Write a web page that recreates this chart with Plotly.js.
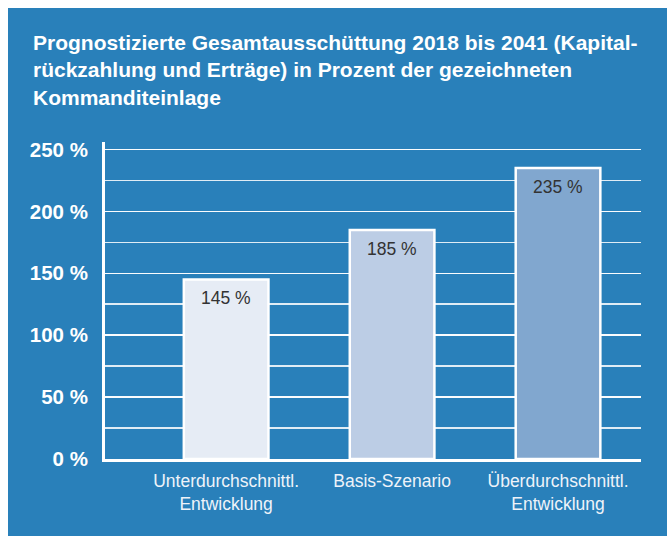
<!DOCTYPE html>
<html>
<head>
<meta charset="utf-8">
<script src="https://cdn.plot.ly/plotly-3.0.1.min.js"></script>
<style>
html,body{margin:0;padding:0;background:#ffffff;}
#chart{position:absolute;left:8px;top:8px;width:659px;height:528px;}
</style>
</head>
<body>
<div id="chart"></div>
<script>
const categories = ["Unterdurchschnittl.<br>Entwicklung", "Basis-Szenario", "Überdurchschnittl.<br>Entwicklung"];
const values = [145, 185, 235];
const barColors = ["#e6ecf5", "#bccde5", "#81a7cf"];
const yTickVals = [0, 50, 100, 150, 200, 250];
const yTickText = ["0 %", "50 %", "100 %", "150 %", "200 %", "250 %"];

const font = "Liberation Sans, Arial, Helvetica, sans-serif";
const blue = "#2980ba";

const trace = {
  type: "bar",
  x: [0, 1, 2],
  y: values,
  width: 0.51,
  marker: {color: barColors, line: {color: "#ffffff", width: 2.5}},
  hoverinfo: "skip"
};

const annotations = values.map((v, i) => ({
  x: i, y: v, xref: "x", yref: "y",
  text: v + " %",
  showarrow: false,
  yanchor: "middle",
  yshift: -19,
  font: {family: font, size: 17.5, color: "#333333"}
}));

const layout = {
  width: 659,
  height: 528,
  paper_bgcolor: blue,
  plot_bgcolor: blue,
  margin: {l: 97, r: 26, t: 134, b: 77},
  showlegend: false,
  annotations: annotations,
  title: {
    text: "<b>Prognostizierte Gesamtausschüttung 2018 bis 2041 (Kapital-<br>rückzahlung und Erträge) in Prozent der gezeichneten<br>Kommanditeinlage</b>",
    x: 25/659, xanchor: "left", xref: "container",
    y: 1 - 42/528, yanchor: "top", yref: "container",
    font: {family: font, size: 21, color: "#ffffff"}
  },
  xaxis: {
    range: [-0.73, 2.5],
    tickvals: [0, 1, 2],
    ticktext: categories,
    showgrid: false,
    zeroline: false,
    showline: true,
    linecolor: "#ffffff",
    linewidth: 3,
    ticks: "",
    ticklabelstandoff: 4,
    tickfont: {family: font, size: 17.5, color: "#eef3f9"},
    fixedrange: true
  },
  yaxis: {
    range: [0, 256],
    tickvals: yTickVals,
    ticktext: yTickText,
    showgrid: true,
    gridcolor: "rgba(255,255,255,0.85)",
    gridwidth: 1.5,
    minor: {dtick: 25, tick0: 0, showgrid: true, gridcolor: "rgba(255,255,255,0.85)", gridwidth: 1.5, ticks: ""},
    zeroline: false,
    showline: true,
    linecolor: "#ffffff",
    linewidth: 3,
    ticks: "",
    ticklabelstandoff: 10,
    tickfont: {family: font, size: 20.5, color: "#ffffff", weight: "bold"},
    fixedrange: true
  }
};

Plotly.newPlot("chart", [trace], layout, {displayModeBar: false, staticPlot: true});
</script>
</body>
</html>
